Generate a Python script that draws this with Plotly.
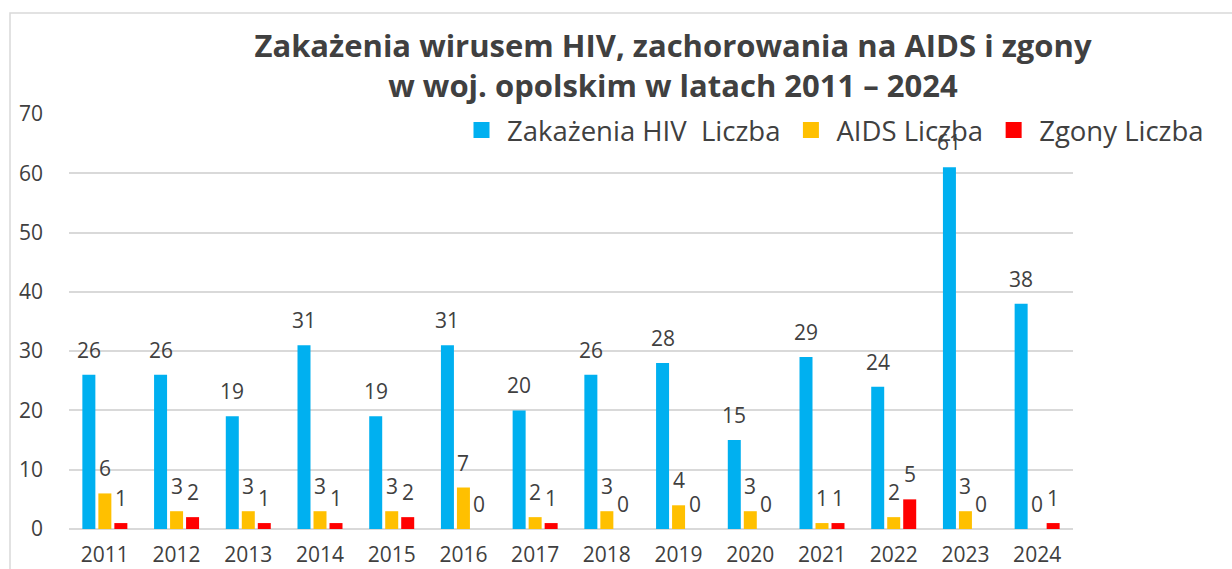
import plotly.graph_objects as go

years = ["2011", "2012", "2013", "2014", "2015", "2016", "2017", "2018", "2019", "2020", "2021", "2022", "2023", "2024"]
hiv = [26, 26, 19, 31, 19, 31, 20, 26, 28, 15, 29, 24, 61, 38]
aids = [6, 3, 3, 3, 3, 7, 2, 3, 4, 3, 1, 2, 3, 0]
zgony = [1, 2, 1, 1, 2, 0, 1, 0, 0, 0, 1, 5, 0, 1]

names = ["Zakażenia HIV  Liczba", "AIDS Liczba", "Zgony Liczba"]
colors = ["#00B0F0", "#FFC000", "#FF0000"]
series = [hiv, aids, zgony]
offsets = [-16, 0, 16]

FONT = "Open Sans"
TXT = "#404040"

W, H = 1232, 569
L, R, T, B = 69, 159, 114, 40
pw, ph = W - L - R, H - T - B

fig = go.Figure()
for nm, col, vals in zip(names, colors, series):
    fig.add_trace(go.Bar(x=years, y=vals, name=nm, marker=dict(color=col, line=dict(width=0)),
                         showlegend=False))
# legend entries (no visible marks)
for nm, col in zip(names, colors):
    fig.add_trace(go.Scatter(x=[years[0]], y=[None], mode="markers", name=nm,
                             marker=dict(symbol="square", size=18, color=col)))

annotations = []
for vals, off in zip(series, offsets):
    for i, v in enumerate(vals):
        annotations.append(dict(x=i, y=v, xref="x", yref="y", text=str(v), showarrow=False,
                                xshift=off, yshift=25, yanchor="middle", xanchor="center",
                                font=dict(family=FONT, size=21, color=TXT)))

fig.update_layout(
    width=W, height=H,
    margin=dict(l=L, r=R, t=T, b=B, autoexpand=False),
    paper_bgcolor="white", plot_bgcolor="white",
    barmode="group", bargap=0.3307, bargroupgap=0.1875,
    title=dict(text="<b>Zakażenia wirusem HIV, zachorowania na AIDS i zgony<br>w woj. opolskim w latach 2011 – 2024</b>",
               x=673 / W, xanchor="center", y=1 - 57 / H, yanchor="middle",
               font=dict(family=FONT, size=31, color=TXT)),
    legend=dict(orientation="h", x=(456 - L) / pw, xanchor="left", y=1.02, yanchor="top",
                font=dict(family=FONT, size=27.5, color=TXT), bgcolor="rgba(0,0,0,0)",
                itemwidth=41, itemclick=False),
    annotations=annotations,
    xaxis=dict(type="category", range=[-0.5, len(years) - 0.5], showgrid=False, showline=False,
               zeroline=False, tickfont=dict(family=FONT, size=21, color=TXT), ticklabelstandoff=11,
               automargin=False),
    yaxis=dict(range=[0, 70], dtick=10, showgrid=True, gridcolor="#D9D9D9", gridwidth=1.5,
               zeroline=True, zerolinecolor="#D9D9D9", zerolinewidth=2, showline=False,
               tickfont=dict(family=FONT, size=21, color=TXT), ticklabelstandoff=25,
               automargin=False),
    shapes=[dict(type="rect", xref="paper", yref="paper",
                 x0=(10 - L) / pw, x1=(W + 20 - L) / pw,
                 y0=-(B + 20) / ph, y1=(H - B - 13) / ph,
                 line=dict(color="#D9D9D9", width=1.5), fillcolor="rgba(0,0,0,0)", layer="below")],
)

fig.write_html("out.html", config={"displayModeBar": False},
               post_script="document.body.style.margin='0px';")
